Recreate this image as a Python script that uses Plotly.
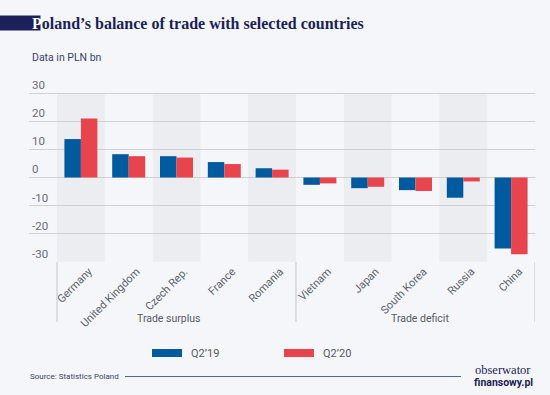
import plotly.graph_objects as go

countries = ["Germany", "United Kingdom", "Czech Rep.", "France", "Romania",
             "Vietnam", "Japan", "South Korea", "Russia", "China"]
q2_19 = [13.7, 8.3, 7.6, 5.5, 3.3, -2.6, -3.8, -4.5, -7.2, -25.3]
q2_20 = [21.0, 7.6, 7.1, 4.8, 2.8, -2.1, -3.3, -4.8, -1.4, -27.3]
series_names = ["Q2\u201919", "Q2\u201920"]
series_colors = ["#005a9e", "#e8444d"]
groups = ["Trade surplus", "Trade deficit"]
group_sizes = [5, 5]
y_ticks = [-30, -20, -10, 0, 10, 20, 30]

W, H = 550, 395
L, R, T, B = 29, 15, 75, 133
PW, PH = W - L - R, H - T - B

def px(x):
    return (x - L) / PW

def py(y):
    return (H - B - y) / PH

BG = "#f5f6f9"
NAVY = "#1b1f5a"
GRID = "#cfd0d4"
TXT = "#5a5f6a"

xs = list(range(len(countries)))
fig = go.Figure()
for name, vals, col in zip(series_names, [q2_19, q2_20], series_colors):
    fig.add_trace(go.Bar(x=xs, y=vals, name=name, marker=dict(color=col, line=dict(width=0)),
                         showlegend=False))

shapes = []
for i in xs:
    if i % 2 == 0:
        shapes.append(dict(type="rect", xref="x", yref="y", x0=i - 0.5, x1=i + 0.5,
                           y0=-30, y1=30, fillcolor="#ecedf1", line=dict(width=0), layer="below"))
pos = -0.5
bounds = [pos]
for s in group_sizes:
    pos += s
    bounds.append(pos)
for b in bounds:
    shapes.append(dict(type="line", xref="x", yref="paper", x0=b, x1=b, y0=0, y1=py(322),
                       line=dict(color="#c4c5c9", width=1)))
shapes.append(dict(type="rect", xref="paper", yref="paper", x0=px(0), x1=px(40.5),
                   y0=py(30.5), y1=py(15.5), fillcolor=NAVY, line=dict(width=0)))
shapes.append(dict(type="line", xref="paper", yref="paper", x0=px(125), x1=px(461),
                   y0=py(376.5), y1=py(376.5), line=dict(color="#5b6192", width=1)))
leg_x = [152, 284]
for lx, col in zip(leg_x, series_colors):
    shapes.append(dict(type="rect", xref="paper", yref="paper", x0=px(lx), x1=px(lx + 30),
                       y0=py(357), y1=py(349), fillcolor=col, line=dict(width=0)))

ann = []
ann.append(dict(xref="paper", yref="paper", x=px(30), y=py(23.5), xanchor="left", yanchor="middle",
                text="<b><span style='color:white'>P</span>oland\u2019s balance of trade with selected countries</b>",
                showarrow=False, font=dict(family="Liberation Serif", size=16, color=NAVY)))
ann.append(dict(xref="paper", yref="paper", x=px(30), y=py(57), xanchor="left", yanchor="middle",
                text="Data in PLN bn", showarrow=False,
                font=dict(family="Roboto", size=10.5, color="#3a3f72")))
for lx, name in zip(leg_x, series_names):
    ann.append(dict(xref="paper", yref="paper", x=px(lx + 37), y=py(353), xanchor="left",
                    yanchor="middle", text=name, showarrow=False,
                    font=dict(family="Roboto", size=11, color="#555a66")))
group_x = [1.84, 7.1]
for gx, g in zip(group_x, groups):
    ann.append(dict(xref="x", yref="paper", x=gx, y=py(318), xanchor="center", yanchor="middle",
                    text=g, showarrow=False, font=dict(family="Roboto", size=10.5, color="#555a66")))
ann.append(dict(xref="paper", yref="paper", x=px(28), y=py(376.5), xanchor="left", yanchor="middle",
                text="Source: Statistics Poland", showarrow=False,
                font=dict(family="Roboto", size=8, color="#3a3f72")))
ann.append(dict(xref="paper", yref="paper", x=px(533), y=py(370), xanchor="right", yanchor="middle",
                text="obserwator", showarrow=False,
                font=dict(family="Liberation Serif", size=12.5, color=NAVY)))
ann.append(dict(xref="paper", yref="paper", x=px(535), y=py(382), xanchor="right", yanchor="middle",
                text="<b>finansowy.pl</b>", showarrow=False,
                font=dict(family="Roboto", size=10.5, color=NAVY)))

fig.update_layout(
    width=W, height=H, margin=dict(l=L, r=R, t=T, b=B, pad=0, autoexpand=False),
    paper_bgcolor=BG, plot_bgcolor=BG,
    barmode="group", bargap=0.31, bargroupgap=0,
    shapes=shapes, annotations=ann,
    xaxis=dict(range=[-0.5 - 28 / 47.8, len(countries) - 0.5], tickmode="array",
               tickvals=xs, ticktext=countries, tickangle=-45, ticklabelshift=8,
               tickfont=dict(family="Roboto", size=11, color=TXT),
               showgrid=False, zeroline=False, showline=False, ticks=""),
    yaxis=dict(range=[-30.1, 36.52], tickmode="array", tickvals=y_ticks,
               ticktext=[str(v) for v in y_ticks], ticklabelposition="inside top",
               tickfont=dict(family="Roboto", size=11.5, color="#6a6e78"),
               showgrid=True, gridcolor=GRID, gridwidth=1, zeroline=True,
               zerolinecolor=GRID, zerolinewidth=1, showline=False, ticks=""),
)
fig.write_html("out.html", config={"displayModeBar": False},
               post_script="document.body.style.margin='0';document.body.style.background='%s';" % BG)
